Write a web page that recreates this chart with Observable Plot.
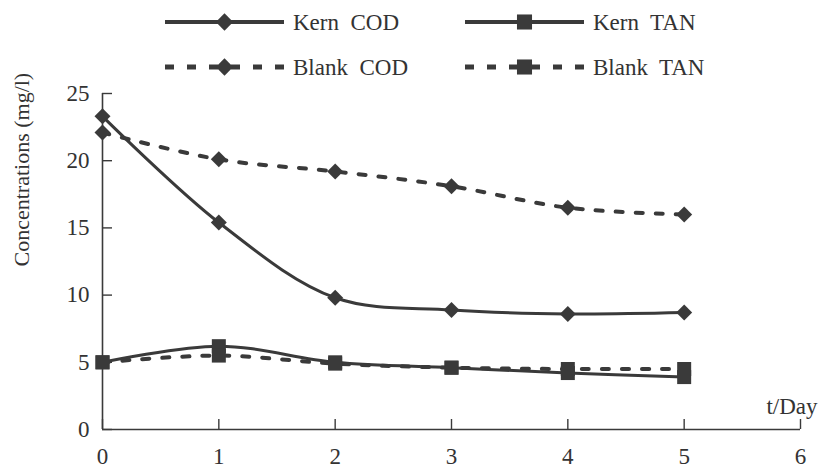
<!DOCTYPE html>
<html>
<head>
<meta charset="utf-8">
<script src="https://cdn.jsdelivr.net/npm/d3@7"></script>
<script src="https://cdn.jsdelivr.net/npm/@observablehq/plot@0.6"></script>
<style>
  body { margin: 0; background: #fff; }
  #chart { width: 820px; height: 469px; font-family: "Liberation Serif", "Times New Roman", serif; color: #333; }
  #legend { display: block; }
</style>
</head>
<body>
<div id="chart"></div>
<script>
// Concentrations over time (mg/l) for the Kern-treated and blank samples
const days = [0, 1, 2, 3, 4, 5];
const kernCOD  = [23.3, 15.4, 9.8, 8.9, 8.6, 8.7];
const blankCOD = [22.1, 20.1, 19.2, 18.1, 16.5, 16.0];
const kernTAN  = [5.0, 6.2, 5.0, 4.6, 4.2, 3.9];
const blankTAN = [5.0, 5.5, 4.9, 4.6, 4.5, 4.5];

const xTicks = [0, 1, 2, 3, 4, 5, 6];
const yTicks = [0, 5, 10, 15, 20, 25];
const xLabel = "t/Day";
const yLabel = "Concentrations (mg/l)";

const ink = "#3a3a3a";
const textInk = "#333";

const series = [
  { name: "Kern  COD",  values: kernCOD,  symbol: "diamond2", dashed: false },
  { name: "Kern  TAN",  values: kernTAN,  symbol: "square",   dashed: false },
  { name: "Blank  COD", values: blankCOD, symbol: "diamond2", dashed: true },
  { name: "Blank  TAN", values: blankTAN, symbol: "square",   dashed: true }
];
const markerR = { diamond2: 7.2, square: 7.9 };
const dash = "7,13";

const rows = series.flatMap(s => days.map((d, i) => ({ series: s.name, day: d, value: s.values[i] })));

// ---- legend (two rows, two columns) ----
const legendH = 80;
const legend = d3.create("svg")
  .attr("id", "legend")
  .attr("width", 820)
  .attr("height", legendH)
  .style("font-family", "\"Liberation Serif\", \"Times New Roman\", serif")
  .style("font-size", "23px");
const colX = [165, 465];
const rowY = [22, 67];
const sampleLen = 119;
series.forEach((s, i) => {
  const x0 = colX[i % 2];
  const y0 = rowY[Math.floor(i / 2)];
  const g = legend.append("g").attr("transform", `translate(${x0},${y0})`);
  g.append("line")
    .attr("x1", 0).attr("x2", sampleLen)
    .attr("stroke", ink).attr("stroke-width", s.dashed ? 5 : 4)
    .attr("stroke-dasharray", s.dashed ? "9,13" : null);
  const r = markerR[s.symbol] + 0.6;
  const sym = s.symbol === "diamond2" ? d3.symbolDiamond2 : d3.symbolSquare;
  g.append("path")
    .attr("transform", `translate(${sampleLen / 2},0)`)
    .attr("d", d3.symbol(sym, Math.PI * r * r)())
    .attr("fill", ink);
  g.append("text")
    .attr("x", sampleLen + 9)
    .attr("dy", "0.35em")
    .attr("fill", textInk)
    .attr("xml:space", "preserve")
    .style("white-space", "pre")
    .text(s.name);
});

// ---- chart ----
const plot = Plot.plot({
  width: 820,
  height: 389,
  marginLeft: 102,
  marginRight: 20,
  marginTop: 13,
  marginBottom: 40,
  style: { fontFamily: "\"Liberation Serif\", \"Times New Roman\", serif", fontSize: "23px", color: textInk, background: "#fff", overflow: "visible" },
  x: { domain: [0, 6] },
  y: { domain: [0, 25] },
  marks: [
    Plot.ruleX([0], { stroke: ink, strokeWidth: 1.6 }),
    Plot.ruleY([0], { stroke: ink, strokeWidth: 1.6 }),
    Plot.axisX({ ticks: xTicks, tickSize: -10, tickPadding: 28, tickFormat: d => String(d), label: null, stroke: ink, fill: textInk, strokeWidth: 1.4 }),
    Plot.axisY({ ticks: yTicks, tickSize: -10, tickPadding: 23, tickFormat: d => String(d), label: null, stroke: ink, fill: textInk, strokeWidth: 1.4 }),
    ...series.map(s => Plot.line(rows.filter(r => r.series === s.name), {
      x: "day", y: "value", curve: "catmull-rom",
      stroke: ink, strokeWidth: s.dashed ? 4 : 3,
      strokeDasharray: s.dashed ? dash : null
    })),
    ...series.map(s => Plot.dot(rows.filter(r => r.series === s.name), {
      x: "day", y: "value", symbol: s.symbol, r: markerR[s.symbol], fill: ink, stroke: "none"
    })),
    Plot.text([xLabel], { text: d => d, frameAnchor: "bottom-right", textAnchor: "end", dx: 17, dy: -16, fill: textInk, fontSize: 23 }),
    Plot.text([yLabel], { text: d => d, frameAnchor: "left", rotate: -90, dx: -81, dy: 5, fill: textInk, fontSize: 22 })
  ]
});

const chart = document.getElementById("chart");
chart.appendChild(legend.node());
plot.style.display = "block";
chart.appendChild(plot);
</script>
</body>
</html>
